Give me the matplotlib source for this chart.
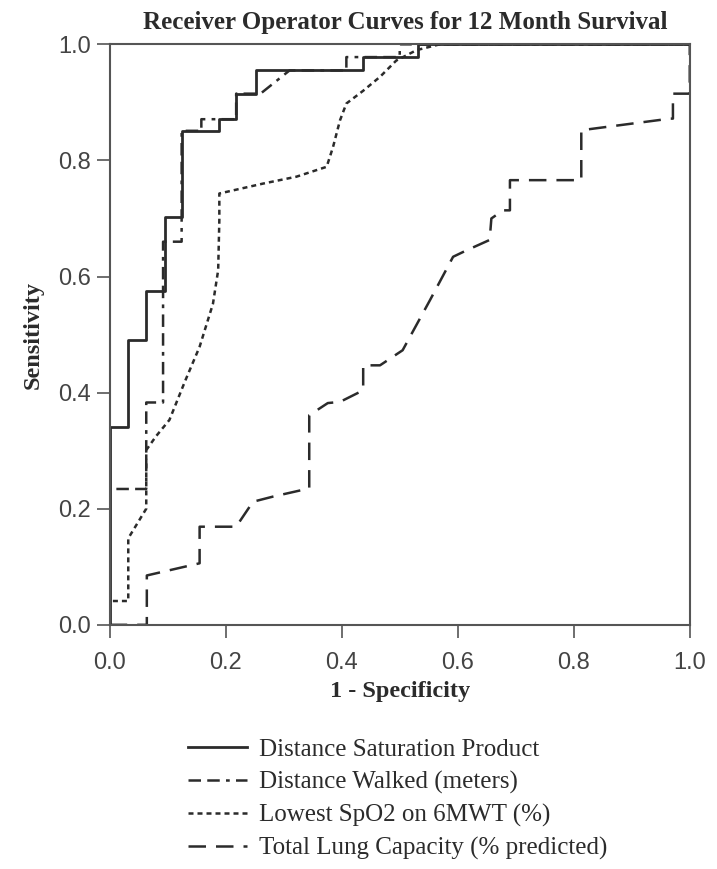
#ROC curves for 12 month survival

#importing the libraries
import matplotlib
matplotlib.use('Agg')
import matplotlib.pyplot as plt

#curve vertices (1 - specificity, sensitivity)
dsp_fpr = [0, 0, 0.032, 0.032, 0.062, 0.062, 0.095, 0.095, 0.125, 0.125, 0.188, 0.188,
           0.218, 0.218, 0.252, 0.252, 0.437, 0.437, 0.531, 0.531, 1.0]
dsp_tpr = [0, 0.341, 0.341, 0.49, 0.49, 0.575, 0.575, 0.702, 0.702, 0.851, 0.851, 0.871,
           0.871, 0.915, 0.915, 0.955, 0.955, 0.978, 0.978, 1.0, 1.0]

walk_fpr = [0, 0, 0.063, 0.063, 0.092, 0.092, 0.124, 0.124, 0.158, 0.158, 0.188, 0.218,
            0.218, 0.26, 0.31, 0.408, 0.408, 0.5, 0.5, 1.0]
walk_tpr = [0, 0.234, 0.234, 0.383, 0.383, 0.66, 0.66, 0.851, 0.851, 0.871, 0.871, 0.871,
            0.915, 0.915, 0.955, 0.955, 0.978, 0.978, 1.0, 1.0]

spo2_fpr = [0, 0, 0.032, 0.032, 0.063, 0.063, 0.08, 0.103, 0.13, 0.155, 0.178, 0.187,
            0.189, 0.189, 0.264, 0.322, 0.374, 0.385, 0.397, 0.408, 0.437, 0.466, 0.494,
            0.529, 0.569, 1.0]
spo2_tpr = [0, 0.041, 0.041, 0.149, 0.2, 0.301, 0.325, 0.353, 0.42, 0.479, 0.553, 0.611,
            0.697, 0.743, 0.760, 0.772, 0.789, 0.823, 0.869, 0.898, 0.92, 0.944, 0.972,
            0.99, 1.0, 1.0]

tlc_fpr = [0, 0.064, 0.064, 0.155, 0.155, 0.218, 0.247, 0.282, 0.344, 0.344, 0.376, 0.397,
           0.437, 0.437, 0.466, 0.505, 0.552, 0.592, 0.615, 0.655, 0.658, 0.678, 0.690,
           0.690, 0.813, 0.813, 0.966, 0.971, 0.971, 1.0, 1.0]
tlc_tpr = [0, 0, 0.085, 0.106, 0.169, 0.169, 0.212, 0.221, 0.235, 0.361, 0.382, 0.384,
           0.404, 0.447, 0.447, 0.473, 0.559, 0.634, 0.645, 0.663, 0.700, 0.714, 0.714,
           0.766, 0.766, 0.852, 0.872, 0.872, 0.915, 0.915, 1.0]

labels = ['Distance Saturation Product', 'Distance Walked (meters)',
          'Lowest SpO2 on 6MWT (%)', 'Total Lung Capacity (% predicted)']
ticks = [0.0, 0.2, 0.4, 0.6, 0.8, 1.0]

ink = '#2b2b2b'
serif = ['Liberation Serif', 'DejaVu Serif']
sans = ['Liberation Sans', 'DejaVu Sans']

fig = plt.figure(figsize=(7.17, 8.69), dpi=100)
ax = fig.add_axes([0.153, 0.281, 0.809, 0.668])

#drawing the curves
ax.plot(tlc_fpr, tlc_tpr, color=ink, lw=1.8, dashes=(7, 4), label=labels[3])
ax.plot(spo2_fpr, spo2_tpr, color=ink, lw=1.8, dashes=(2, 1.6), label=labels[2])
ax.plot(walk_fpr, walk_tpr, color=ink, lw=1.8, dashes=(5, 2.5, 5, 2.5, 1.5, 2.5), label=labels[1])
ax.plot(dsp_fpr, dsp_tpr, color=ink, lw=2, label=labels[0])

ax.set_xlim(0, 1)
ax.set_ylim(0, 1)
ax.set_xticks(ticks)
ax.set_yticks(ticks)
ax.set_xticklabels(['%.1f' % t for t in ticks], family=sans, fontsize=17, color='#444444')
ax.set_yticklabels(['%.1f' % t for t in ticks], family=sans, fontsize=17, color='#444444')
ax.tick_params(direction='out', length=9.5, width=1.2, color='#555555')
ax.tick_params(axis='x', pad=10)
ax.tick_params(axis='y', pad=4)
for s in ax.spines.values():
    s.set_color('#555555')
    s.set_linewidth(1.5)

ax.set_xlabel('1 - Specificity', family=serif, fontweight='bold', fontsize=17.5, color=ink, labelpad=5)
ax.set_ylabel('Sensitivity', family=serif, fontweight='bold', fontsize=17.5, color=ink, labelpad=10)
ax.set_title('Receiver Operator Curves for 12 Month Survival', family=serif,
             fontweight='bold', fontsize=18, color=ink, pad=11, x=0.51)

#legend under the plot
handles, labs = ax.get_legend_handles_labels()
order = [3, 2, 1, 0]
leg = fig.legend([handles[i] for i in order], [labs[i] for i in order],
                 loc='upper left', bbox_to_anchor=(0.262, 0.150), frameon=False,
                 prop={'family': serif, 'size': 18}, handlelength=2.35,
                 handletextpad=0.5, labelspacing=0.4, borderaxespad=0, borderpad=0)
for t in leg.get_texts():
    t.set_color(ink)

plt.savefig('out.png', dpi=100)
